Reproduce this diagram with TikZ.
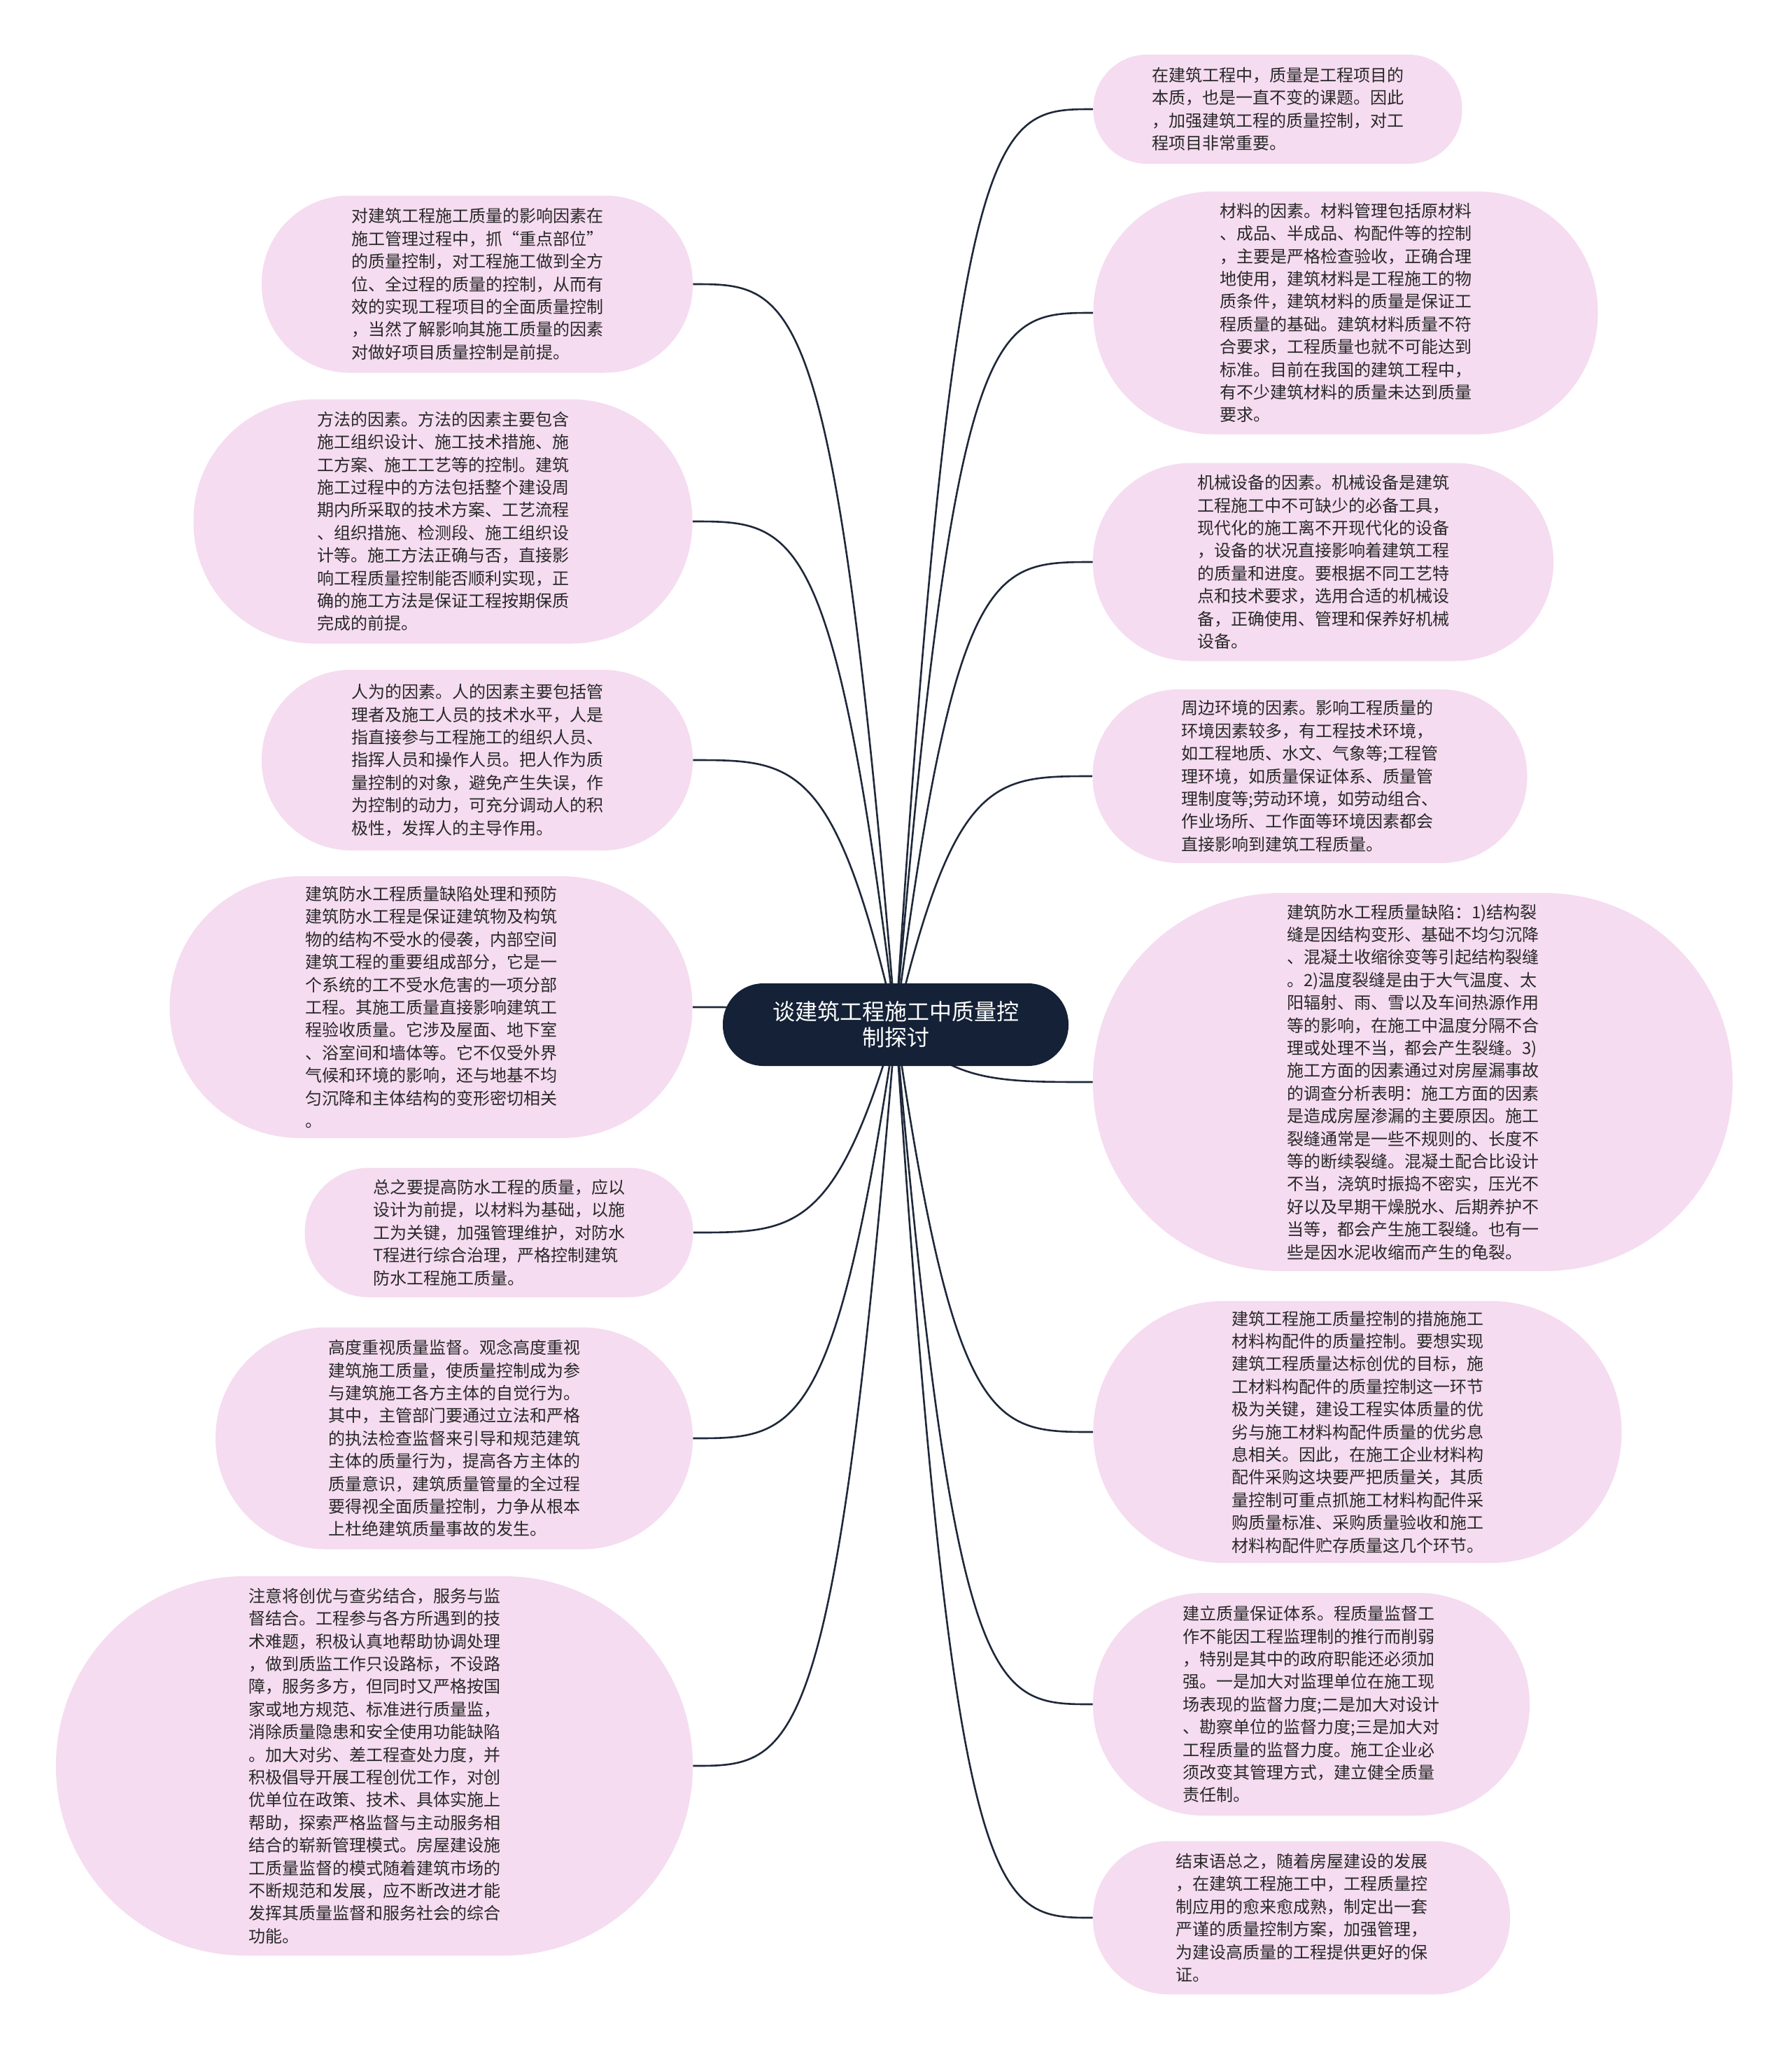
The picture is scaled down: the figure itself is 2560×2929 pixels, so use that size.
\documentclass[tikz,border=0pt]{standalone}
\usepackage{fontspec}
\newfontfamily\cjk{Noto Sans CJK SC}
\usetikzlibrary{calc,backgrounds}
\definecolor{leaffill}{RGB}{245,220,240}
\definecolor{rootfill}{RGB}{20,33,54}
\definecolor{linecol}{RGB}{30,40,58}
\definecolor{txtcol}{RGB}{40,40,40}
\tikzset{
  leaf/.style={draw=none, fill=leaffill, align=left, text=txtcol, inner sep=0pt,
    font=\cjk\fontsize{12pt}{16.2pt}\selectfont},
  root/.style={draw=none, fill=rootfill, align=center, text=white, inner sep=0pt,
    minimum width=247pt, minimum height=59pt, rounded corners=29pt,
    font=\cjk\fontsize{16pt}{18.5pt}\selectfont},
  conn/.style={draw=linecol, line width=1.3pt}
}
\newcommand{\rconn}[1]{\draw[conn] (c.center) .. controls ($(c.center |- #1.west)!0.3!(#1.west)$) and ($(c.center |- #1.west)!0.5!(#1.west)$) .. (#1.west);}
\newcommand{\lconn}[1]{\draw[conn] (c.center) .. controls ($(c.center |- #1.east)!0.3!(#1.east)$) and ($(c.center |- #1.east)!0.5!(#1.east)$) .. (#1.east);}
\begin{document}
\begin{tikzpicture}[x=0.5pt,y=-0.5pt]
\useasboundingbox (0,0) rectangle (2560,2929);
\node[root] (c) at (1280,1464) {谈建筑工程施工中质量控\\制探讨};
% right
\node[leaf, minimum width=263.5pt, minimum height=78pt, rounded corners=38.5pt] (r1) at (1826,156) {在建筑工程中，质量是工程项目的\\本质，也是一直不变的课题。因此\\，加强建筑工程的质量控制，对工\\程项目非常重要。};
\node[leaf, minimum width=360.5pt, minimum height=173.5pt, rounded corners=86pt] (r2) at (1923,447) {材料的因素。材料管理包括原材料\\、成品、半成品、构配件等的控制\\，主要是严格检查验收，正确合理\\地使用，建筑材料是工程施工的物\\质条件，建筑材料的质量是保证工\\程质量的基础。建筑材料质量不符\\合要求，工程质量也就不可能达到\\标准。目前在我国的建筑工程中，\\有不少建筑材料的质量未达到质量\\要求。};
\node[leaf, minimum width=329pt, minimum height=141.5pt, rounded corners=70pt] (r3) at (1891,803) {机械设备的因素。机械设备是建筑\\工程施工中不可缺少的必备工具，\\现代化的施工离不开现代化的设备\\，设备的状况直接影响着建筑工程\\的质量和进度。要根据不同工艺特\\点和技术要求，选用合适的机械设\\备，正确使用、管理和保养好机械\\设备。};
\node[leaf, minimum width=310.5pt, minimum height=124pt, rounded corners=61.5pt] (r4) at (1872,1109) {周边环境的因素。影响工程质量的\\环境因素较多，有工程技术环境，\\如工程地质、水文、气象等;工程管\\理环境，如质量保证体系、质量管\\理制度等;劳动环境，如劳动组合、\\作业场所、工作面等环境因素都会\\直接影响到建筑工程质量。};
\node[leaf, minimum width=457pt, minimum height=270pt, rounded corners=134pt] (r5) at (2019,1546) {建筑防水工程质量缺陷：1)结构裂\\缝是因结构变形、基础不均匀沉降\\、混凝土收缩徐变等引起结构裂缝\\。2)温度裂缝是由于大气温度、太\\阳辐射、雨、雪以及车间热源作用\\等的影响，在施工中温度分隔不合\\理或处理不当，都会产生裂缝。3)\\施工方面的因素通过对房屋漏事故\\的调查分析表明：施工方面的因素\\是造成房屋渗漏的主要原因。施工\\裂缝通常是一些不规则的、长度不\\等的断续裂缝。混凝土配合比设计\\不当，浇筑时振捣不密实，压光不\\好以及早期干燥脱水、后期养护不\\当等，都会产生施工裂缝。也有一\\些是因水泥收缩而产生的龟裂。};
\node[leaf, minimum width=377.5pt, minimum height=187pt, rounded corners=93pt] (r6) at (1940,2046) {建筑工程施工质量控制的措施施工\\材料构配件的质量控制。要想实现\\建筑工程质量达标创优的目标，施\\工材料构配件的质量控制这一环节\\极为关键，建设工程实体质量的优\\劣与施工材料构配件质量的优劣息\\息相关。因此，在施工企业材料构\\配件采购这块要严把质量关，其质\\量控制可重点抓施工材料构配件采\\购质量标准、采购质量验收和施工\\材料构配件贮存质量这几个环节。};
\node[leaf, minimum width=312pt, minimum height=159pt, rounded corners=79pt] (r7) at (1874,2435) {建立质量保证体系。程质量监督工\\作不能因工程监理制的推行而削弱\\，特别是其中的政府职能还必须加\\强。一是加大对监理单位在施工现\\场表现的监督力度;二是加大对设计\\、勘察单位的监督力度;三是加大对\\工程质量的监督力度。施工企业必\\须改变其管理方式，建立健全质量\\责任制。};
\node[leaf, minimum width=298pt, minimum height=109.5pt, rounded corners=54pt] (r8) at (1860,2740) {结束语总之，随着房屋建设的发展\\，在建筑工程施工中，工程质量控\\制应用的愈来愈成熟，制定出一套\\严谨的质量控制方案，加强管理，\\为建设高质量的工程提供更好的保\\证。};
% left
\node[leaf, minimum width=308pt, minimum height=126.5pt, rounded corners=62.5pt] (l1) at (682,406) {对建筑工程施工质量的影响因素在\\施工管理过程中，抓“重点部位”\\的质量控制，对工程施工做到全方\\位、全过程的质量的控制，从而有\\效的实现工程项目的全面质量控制\\，当然了解影响其施工质量的因素\\对做好项目质量控制是前提。};
\node[leaf, minimum width=356.5pt, minimum height=174.5pt, rounded corners=86.5pt] (l2) at (633,745) {方法的因素。方法的因素主要包含\\施工组织设计、施工技术措施、施\\工方案、施工工艺等的控制。建筑\\施工过程中的方法包括整个建设周\\期内所采取的技术方案、工艺流程\\、组织措施、检测段、施工组织设\\计等。施工方法正确与否，直接影\\响工程质量控制能否顺利实现，正\\确的施工方法是保证工程按期保质\\完成的前提。};
\node[leaf, minimum width=308pt, minimum height=129pt, rounded corners=64pt] (l3) at (682,1086) {人为的因素。人的因素主要包括管\\理者及施工人员的技术水平，人是\\指直接参与工程施工的组织人员、\\指挥人员和操作人员。把人作为质\\量控制的对象，避免产生失误，作\\为控制的动力，可充分调动人的积\\极性，发挥人的主导作用。};
\node[leaf, minimum width=373.5pt, minimum height=187pt, rounded corners=93pt] (l4) at (616,1439) {建筑防水工程质量缺陷处理和预防\\建筑防水工程是保证建筑物及构筑\\物的结构不受水的侵袭，内部空间\\建筑工程的重要组成部分，它是一\\个系统的工不受水危害的一项分部\\工程。其施工质量直接影响建筑工\\程验收质量。它涉及屋面、地下室\\、浴室间和墙体等。它不仅受外界\\气候和环境的影响，还与地基不均\\匀沉降和主体结构的变形密切相关\\。};
\node[leaf, minimum width=277.5pt, minimum height=92.5pt, rounded corners=46pt] (l5) at (713,1761) {总之要提高防水工程的质量，应以\\设计为前提，以材料为基础，以施\\工为关键，加强管理维护，对防水\\T程进行综合治理，严格控制建筑\\防水工程施工质量。};
\node[leaf, minimum width=341pt, minimum height=158.5pt, rounded corners=79pt] (l6) at (649,2055) {高度重视质量监督。观念高度重视\\建筑施工质量，使质量控制成为参\\与建筑施工各方主体的自觉行为。\\其中，主管部门要通过立法和严格\\的执法检查监督来引导和规范建筑\\主体的质量行为，提高各方主体的\\质量意识，建筑质量管量的全过程\\要得视全面质量控制，力争从根本\\上杜绝建筑质量事故的发生。};
\node[leaf, minimum width=455pt, minimum height=271pt, rounded corners=135pt] (l7) at (535,2523) {注意将创优与查劣结合，服务与监\\督结合。工程参与各方所遇到的技\\术难题，积极认真地帮助协调处理\\，做到质监工作只设路标，不设路\\障，服务多方，但同时又严格按国\\家或地方规范、标准进行质量监，\\消除质量隐患和安全使用功能缺陷\\。加大对劣、差工程查处力度，并\\积极倡导开展工程创优工作，对创\\优单位在政策、技术、具体实施上\\帮助，探索严格监督与主动服务相\\结合的崭新管理模式。房屋建设施\\工质量监督的模式随着建筑市场的\\不断规范和发展，应不断改进才能\\发挥其质量监督和服务社会的综合\\功能。};
\begin{scope}[on background layer]
\fill[white] (0,0) rectangle (2560,2929);
\rconn{r1}\rconn{r2}\rconn{r3}\rconn{r4}\rconn{r5}\rconn{r6}\rconn{r7}\rconn{r8}
\lconn{l1}\lconn{l2}\lconn{l3}\lconn{l4}\lconn{l5}\lconn{l6}\lconn{l7}
\end{scope}
\end{tikzpicture}
\end{document}
